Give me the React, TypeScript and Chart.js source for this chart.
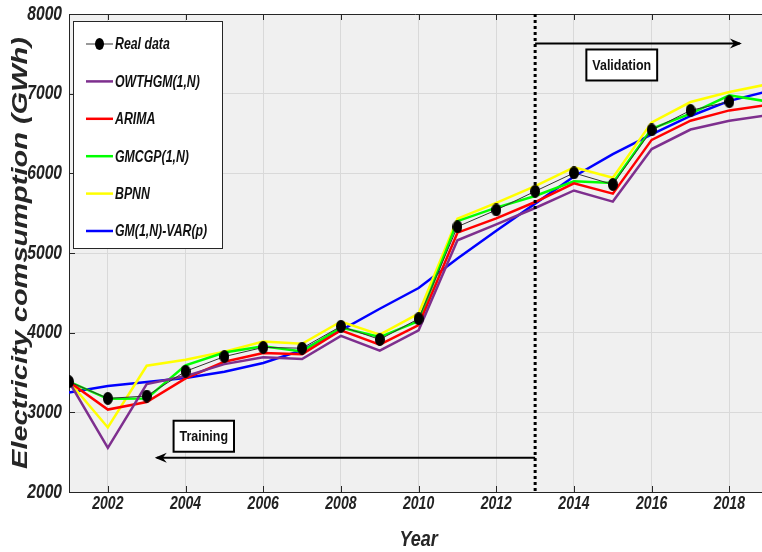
import React, { useEffect, useRef } from 'react';
import { Chart, registerables } from 'chart.js';

Chart.register(...registerables);

// ---------------- data ----------------
const years = [2001, 2002, 2003, 2004, 2005, 2006, 2007, 2008, 2009, 2010, 2011, 2012, 2013, 2014, 2015, 2016, 2017, 2018, 2019];
const realData = [3385, 3175, 3205, 3515, 3700, 3815, 3805, 4080, 3915, 4175, 5330, 5540, 5775, 6005, 5860, 6545, 6790, 6900];
const owthgm = [3385, 2555, 3355, 3455, 3605, 3690, 3670, 3960, 3775, 4030, 5160, 5360, 5565, 5785, 5645, 6305, 6550, 6660, 6730];
const arima = [3385, 3035, 3130, 3425, 3635, 3745, 3730, 4030, 3850, 4095, 5255, 5435, 5640, 5875, 5745, 6420, 6660, 6790, 6860];
const gmcgp = [3385, 3170, 3175, 3590, 3750, 3830, 3765, 4065, 3945, 4145, 5400, 5570, 5715, 5900, 5880, 6560, 6750, 6980, 6900];
const bpnn = [3385, 2810, 3585, 3660, 3760, 3890, 3860, 4140, 3975, 4240, 5430, 5630, 5840, 6075, 5945, 6640, 6895, 7020, 7120];
const gmVar = [3250, 3330, 3380, 3430, 3510, 3620, 3780, 4030, 4300, 4560, 4930, 5280, 5620, 5960, 6240, 6490, 6720, 6910, 7030];

const seriesLabels = ['Real data', 'OWTHGM(1,N)', 'ARIMA', 'GMCGP(1,N)', 'BPNN', 'GM(1,N)-VAR(p)'];
const seriesColors = ['#000000', '#7E2F8E', '#FF0000', '#00FF00', '#FFFF00', '#0000FF'];

const xTicks = [2002, 2004, 2006, 2008, 2010, 2012, 2014, 2016, 2018];
const yTicks = [2000, 3000, 4000, 5000, 6000, 7000, 8000];
const xMin = 2001;
const xMax = 2018.84;
const yMin = 2000;
const yMax = 8000;

const splitYear = 2013;
const validationArrow = { y: 7630, to: 2018.27 };
const validationLabel = { text: 'Validation', x: 2015.23, y: 7360 };
const trainingArrow = { y: 2430, to: 2003.26 };
const trainingLabel = { text: 'Training', x: 2004.47, y: 2700 };

const xTitle = 'Year';
const yTitle = 'Electricity comsumption (GWh)';

const FONT = "'Liberation Sans', Arial, sans-serif";
const SQUEEZE = 0.78;

function makeEllipse(w: number, h: number) {
  const c = document.createElement('canvas');
  c.width = w;
  c.height = h;
  const g = c.getContext('2d')!;
  g.fillStyle = '#000';
  g.beginPath();
  g.ellipse(w / 2, h / 2, w / 2, h / 2, 0, 0, Math.PI * 2);
  g.fill();
  return c;
}

function toXY(vals: number[]) {
  return vals.map((v, i) => ({ x: years[i], y: v }));
}

function drawText(ctx: CanvasRenderingContext2D, text: string, x: number, y: number, font: string, align: CanvasTextAlign, color: string, sx = SQUEEZE, rotate = 0) {
  ctx.save();
  ctx.translate(x, y);
  ctx.scale(sx, 1);
  if (rotate) ctx.rotate(rotate);
  ctx.font = font;
  ctx.fillStyle = color;
  ctx.textAlign = align;
  ctx.textBaseline = 'middle';
  ctx.fillText(text, 0, 0);
  ctx.restore();
}

const overlay = {
  id: 'overlay',
  beforeDraw(chart: any) {
    const { ctx, chartArea: a } = chart;
    ctx.save();
    ctx.fillStyle = '#f0f0f0';
    ctx.fillRect(a.left, a.top, a.right - a.left, a.bottom - a.top);
    ctx.restore();
  },
  afterDraw(chart: any) {
    const { ctx, chartArea: a } = chart;
    const xs = chart.scales.x;
    const ys = chart.scales.y;
    ctx.save();

    // inward ticks + top border
    ctx.strokeStyle = '#262626';
    ctx.lineWidth = 1;
    ctx.beginPath();
    ctx.moveTo(a.left, a.top + 0.5);
    ctx.lineTo(a.right, a.top + 0.5);
    for (const t of xTicks) {
      const px = Math.round(xs.getPixelForValue(t)) + 0.5;
      ctx.moveTo(px, a.bottom);
      ctx.lineTo(px, a.bottom - 6);
      ctx.moveTo(px, a.top);
      ctx.lineTo(px, a.top + 6);
    }
    for (const t of yTicks) {
      const py = Math.round(ys.getPixelForValue(t)) + 0.5;
      ctx.moveTo(a.left, py);
      ctx.lineTo(a.left + 6, py);
    }
    ctx.stroke();

    // tick labels
    for (const t of xTicks) {
      drawText(ctx, String(t), xs.getPixelForValue(t), a.bottom + 12, `italic bold 18px ${FONT}`, 'center', '#222');
    }
    for (const t of yTicks) {
      drawText(ctx, String(t), a.left - 7, ys.getPixelForValue(t), `italic bold 20px ${FONT}`, 'right', '#222');
    }

    // dotted split line
    const sx = xs.getPixelForValue(splitYear);
    ctx.strokeStyle = '#000';
    ctx.lineWidth = 3;
    ctx.setLineDash([3, 3]);
    ctx.beginPath();
    ctx.moveTo(sx, ys.getPixelForValue(yMax));
    ctx.lineTo(sx, ys.getPixelForValue(yMin));
    ctx.stroke();
    ctx.setLineDash([]);

    // arrows
    const arrow = (x0: number, x1: number, y: number) => {
      ctx.strokeStyle = '#000';
      ctx.lineWidth = 2;
      ctx.beginPath();
      ctx.moveTo(x0, y);
      ctx.lineTo(x1, y);
      ctx.stroke();
      const dir = Math.sign(x1 - x0);
      ctx.fillStyle = '#000';
      ctx.beginPath();
      ctx.moveTo(x1 + dir * 2, y);
      ctx.lineTo(x1 - dir * 10, y - 5);
      ctx.lineTo(x1 - dir * 6, y);
      ctx.lineTo(x1 - dir * 10, y + 5);
      ctx.closePath();
      ctx.fill();
    };
    arrow(sx, xs.getPixelForValue(validationArrow.to), ys.getPixelForValue(validationArrow.y));
    arrow(sx, xs.getPixelForValue(trainingArrow.to), ys.getPixelForValue(trainingArrow.y));

    // label boxes
    const box = (text: string, cx: number, cy: number) => {
      const font = `bold 15px ${FONT}`;
      ctx.font = font;
      const w = ctx.measureText(text).width * 0.83 + 12;
      const h = 31;
      ctx.fillStyle = '#fff';
      ctx.fillRect(cx - w / 2, cy - h / 2, w, h);
      ctx.strokeStyle = '#000';
      ctx.lineWidth = 2;
      ctx.strokeRect(cx - w / 2, cy - h / 2, w, h);
      drawText(ctx, text, cx, cy + 1, font, 'center', '#111', 0.83);
    };
    box(validationLabel.text, xs.getPixelForValue(validationLabel.x), ys.getPixelForValue(validationLabel.y));
    box(trainingLabel.text, xs.getPixelForValue(trainingLabel.x), ys.getPixelForValue(trainingLabel.y));

    // legend
    const lx = a.left + 4;
    const ly = a.top + 7;
    const lw = 149;
    const lh = 227;
    ctx.fillStyle = '#fff';
    ctx.fillRect(lx, ly, lw, lh);
    ctx.strokeStyle = '#262626';
    ctx.lineWidth = 1;
    ctx.strokeRect(lx + 0.5, ly + 0.5, lw, lh);
    const ds = chart.data.datasets;
    for (let i = 0; i < ds.length; i++) {
      const ry = ly + 23 + i * 37.4;
      const x0 = lx + 13;
      const x1 = lx + 40;
      ctx.strokeStyle = i === 0 ? '#333' : ds[i].borderColor;
      ctx.lineWidth = i === 0 ? 1 : 2.5;
      ctx.beginPath();
      ctx.moveTo(x0, ry);
      ctx.lineTo(x1, ry);
      ctx.stroke();
      if (i === 0) {
        ctx.fillStyle = '#000';
        ctx.beginPath();
        ctx.ellipse((x0 + x1) / 2, ry, 4.5, 6, 0, 0, Math.PI * 2);
        ctx.fill();
      }
      drawText(ctx, ds[i].label, x1 + 2, ry + 1, `italic bold 16px ${FONT}`, 'left', '#111', 0.77);
    }

    // axis titles
    drawText(ctx, xTitle, xs.getPixelForValue(2010), 540, `italic bold 22px ${FONT}`, 'center', '#262626', 0.82);
    drawText(ctx, yTitle, 21, (a.top + a.bottom) / 2, `italic bold 29px ${FONT}`, 'center', '#262626', 0.76, -Math.PI / 2);

    ctx.restore();
  },
};

export default function App() {
  const ref = useRef<HTMLCanvasElement | null>(null);
  useEffect(() => {
    document.body.style.margin = '0';
    const marker = makeEllipse(10, 13);
    const seriesVals = [realData, owthgm, arima, gmcgp, bpnn, gmVar];
    const datasets = seriesVals.map((vals, i) => ({
      label: seriesLabels[i],
      data: toXY(vals),
      borderColor: i === 0 ? '#333333' : seriesColors[i],
      backgroundColor: seriesColors[i],
      borderWidth: i === 0 ? 1 : 2.5,
      pointRadius: i === 0 ? 6 : 0,
      pointStyle: i === 0 ? (marker as any) : 'circle',
      tension: 0,
    }));
    const chart = new Chart(ref.current!, {
      type: 'line',
      data: { datasets },
      options: {
        responsive: false,
        animation: false,
        devicePixelRatio: 1,
        layout: { autoPadding: false, padding: { top: 14, right: 0, left: 0, bottom: 0 } },
        plugins: { legend: { display: false }, tooltip: { enabled: false } },
        scales: {
          x: {
            type: 'linear',
            min: xMin,
            max: xMax,
            afterFit: (s: any) => { s.height = 60; s.paddingLeft = 0; s.paddingRight = 0; },
            afterBuildTicks: (s: any) => { s.ticks = xTicks.map((v) => ({ value: v })); },
            grid: { color: '#d9d9d9', lineWidth: 1, drawTicks: false },
            border: { color: '#262626', width: 1 },
            ticks: { display: false },
          },
          y: {
            type: 'linear',
            min: yMin,
            max: yMax,
            afterFit: (s: any) => { s.width = 69; s.paddingTop = 0; s.paddingBottom = 0; },
            afterBuildTicks: (s: any) => { s.ticks = yTicks.map((v) => ({ value: v })); },
            grid: { color: '#d9d9d9', lineWidth: 1, drawTicks: false },
            border: { color: '#262626', width: 1 },
            ticks: { display: false },
          },
        },
      },
      plugins: [overlay],
    });
    return () => chart.destroy();
  }, []);
  return (
    <div style={{ width: 762, height: 552 }}>
      <canvas ref={ref} width={762} height={552} style={{ display: 'block' }} />
    </div>
  );
}
